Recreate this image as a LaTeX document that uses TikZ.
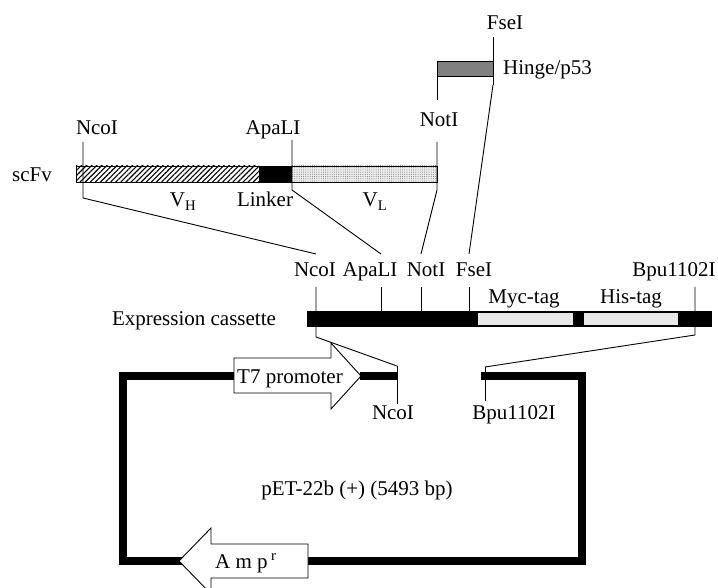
\documentclass[tikz,border=0pt]{standalone}
\usepackage{fontspec}
\setmainfont{Liberation Serif}
\usetikzlibrary{patterns.meta}
\begin{document}
\begin{tikzpicture}[x=1pt,y=-1pt,
  lbl/.style={inner sep=0pt, font=\fontsize{21}{24}\selectfont},
  thinln/.style={line width=0.9pt},
  plas/.style={line width=8pt},
  tagbox/.style={fill=gray!18, draw=black, line width=0.5pt},
  arrowbox/.style={fill=white, draw=black, line width=0.9pt, line join=miter}]
\useasboundingbox (0,0) rectangle (718,588);

% ---------- coordinates ----------
% scFv / hinge ticks
\coordinate (fseTop)  at (493,37);
\coordinate (fseBot)  at (493,85);
\coordinate (notHTop) at (437,61);
\coordinate (notHBot) at (437,100);
\coordinate (ncoSTop) at (83,142);
\coordinate (ncoSBot) at (83,198);
\coordinate (apaSTop) at (292,140);
\coordinate (apaSBot) at (292,190);
\coordinate (notSTop) at (437,142);
\coordinate (notSBot) at (437,190);
% cassette ends of the slanted lines
\coordinate (ncoCUp) at (316,254);
\coordinate (apaCUp) at (381,254);
\coordinate (notCUp) at (421,254);
\coordinate (fseCUp) at (469,254);
% cassette ticks
\coordinate (ncoCTop) at (316,287);
\coordinate (ncoCBot) at (316,337);
\coordinate (apaCTop) at (381,287);
\coordinate (apaCBot) at (381,311);
\coordinate (notCTop) at (421,287);
\coordinate (notCBot) at (421,311);
\coordinate (fseCTop) at (469,287);
\coordinate (fseCBot) at (469,311);
\coordinate (bpuCTop) at (695,287);
\coordinate (bpuCBot) at (695,335);
% plasmid ticks
\coordinate (ncoPTop) at (397,366);
\coordinate (ncoPBot) at (397,404);
\coordinate (bpuPTop) at (485,367);
\coordinate (bpuPBot) at (485,401);
% plasmid corners
\coordinate (pTL) at (123,376);
\coordinate (pTR) at (582,376);
\coordinate (pBL) at (123,561);
\coordinate (pBR) at (582,561);
\coordinate (t7L) at (234,376);
\coordinate (t7R) at (360,376);
\coordinate (ampL) at (179,561);
\coordinate (ampR) at (308,561);

% ---------- hinge ----------
\draw[thinln, fill=gray] (437,61) rectangle (493,76);
\draw[thinln] (fseTop) -- (fseBot);
\draw[thinln] (notHTop) -- (notHBot);
\node[lbl, anchor=base] (fseLbl) at (505,30) {FseI};
\node[lbl, anchor=base west] (hingeLbl) at (503,75) {Hinge/p53};
\node[lbl, anchor=base] (notLbl) at (439,127) {NotI};

% ---------- scFv ----------
\path[pattern={Lines[angle=45,distance=3.6pt,line width=1.1pt]}] (76,166) rectangle (259,182);
\path[preaction={fill=gray!15}, pattern={Dots[distance=2.2pt,radius=0.45pt]}, pattern color=gray!80!black] (292,166) rectangle (437,182);
\fill (259,166) rectangle (292,182);
\draw[line width=0.6pt] (76,166) rectangle (437,182);
\node[lbl, anchor=base] (scfvLbl) at (32,182) {scFv};
\node[lbl, anchor=base] (ncoSLbl) at (97,135) {NcoI};
\node[lbl, anchor=base] (apaSLbl) at (273,135) {ApaLI};
\node[lbl, anchor=base] (vhLbl) at (183,207) {V\textsubscript{H}};
\node[lbl, anchor=base] (lnkLbl) at (265,207) {Linker};
\node[lbl, anchor=base] (vlLbl) at (375,207) {V\textsubscript{L}};
\draw[thinln] (ncoSTop) -- (ncoSBot) -- (ncoCUp);
\draw[thinln] (apaSTop) -- (apaSBot) -- (apaCUp);
\draw[thinln] (notSTop) -- (notSBot) -- (notCUp);
\draw[thinln] (fseBot) -- (fseCUp);

% ---------- expression cassette ----------
\fill (307,311) rectangle (712,327);
\draw[tagbox] (477,312.5) rectangle (573,325.5);
\draw[tagbox] (583,312.5) rectangle (678,325.5);
\node[lbl, anchor=base] (ecLbl) at (194,326) {Expression cassette};
\node[lbl, anchor=base] (ncoCLbl) at (315,277) {NcoI};
\node[lbl, anchor=base] (apaCLbl) at (370,277) {ApaLI};
\node[lbl, anchor=base] (notCLbl) at (426,277) {NotI};
\node[lbl, anchor=base] (fseCLbl) at (474,277) {FseI};
\node[lbl, anchor=base] (bpuCLbl) at (674,277) {Bpu1102I};
\node[lbl, anchor=base] (mycLbl) at (524,304) {Myc-tag};
\node[lbl, anchor=base] (hisLbl) at (631,304) {His-tag};
\draw[thinln] (ncoCTop) -- (ncoCBot) -- (ncoPTop);
\draw[thinln] (apaCTop) -- (apaCBot);
\draw[thinln] (notCTop) -- (notCBot);
\draw[thinln] (fseCTop) -- (fseCBot);
\draw[thinln] (bpuCTop) -- (bpuCBot) -- (bpuPTop);

% ---------- plasmid ----------
\draw[plas, line cap=rect, line join=miter] (t7L) -- (pTL) -- (pBL) -- (ampL);
\draw[plas] (t7R) -- (ncoPTop |- t7R);
\draw[plas, line cap=rect, line join=miter] (bpuPTop |- pTR) -- (pTR) -- (pBR) -- (ampR);
\draw[thinln] (ncoPTop) -- (ncoPBot);
\draw[thinln] (bpuPTop) -- (bpuPBot);
\node[lbl, anchor=base] (ncoPLbl) at (393,419) {NcoI};
\node[lbl, anchor=base] (bpuPLbl) at (514,419) {Bpu1102I};
\node[lbl, anchor=base] (petLbl) at (357,495) {pET-22b (+) (5493 bp)};

% T7 promoter arrow
\draw[arrowbox] (234,358) -- (331,358) -- (331,343) -- (361,376) -- (331,409) -- (331,393) -- (234,393) -- cycle;
\node[lbl, anchor=base west] (t7Lbl) at (237,383) {T7 promoter};

% Amp arrow
\draw[arrowbox] (179,561) -- (211,528) -- (211,544) -- (308,544) -- (308,578) -- (211,578) -- (211,594) -- cycle;
\node[lbl, anchor=base west] (ampLbl) at (215,568) {A m p\,\textsuperscript{r}};
\end{tikzpicture}
\end{document}
